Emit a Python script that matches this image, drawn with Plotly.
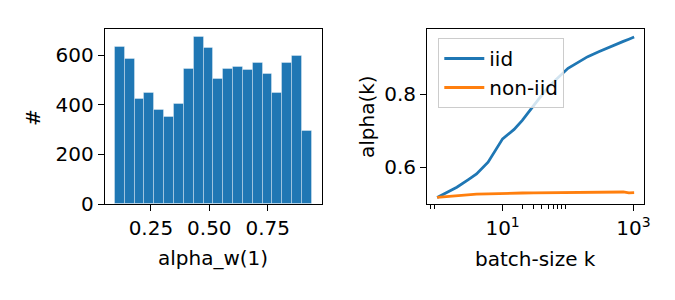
import plotly.graph_objects as go

# ---- data: histogram of alpha_w(1) ----
bin_start = 0.0957
bin_width = 0.04216
hist_counts = [634, 586, 423, 446, 379, 353, 402, 543, 673, 631,
               503, 546, 553, 541, 568, 523, 448, 570, 599, 293]
hist_ticks = [0.25, 0.50, 0.75]
hist_yticks = [0, 200, 400, 600]

# ---- data: alpha(k) vs batch size ----
batch_k = [1, 2, 3, 4, 6, 8, 10, 15, 20, 30, 50, 100, 200, 300, 500, 700, 850, 1024]
alpha_iid = [0.517, 0.545, 0.566, 0.5815, 0.614, 0.651, 0.678, 0.704, 0.729,
             0.770, 0.821, 0.872, 0.904, 0.918, 0.936, 0.946, 0.952, 0.958]
alpha_noniid = [0.517, 0.522, 0.524, 0.526, 0.527, 0.528, 0.5285, 0.529, 0.5293,
                0.5295, 0.5297, 0.53, 0.53, 0.53, 0.5305, 0.532, 0.5295, 0.530]
k_ticks = [10, 1000]
k_ticktext = ["10<sup>1</sup>", "10<sup>3</sup>"]
k_minor = [0.7, 0.8, 0.9, 20, 30, 40, 50, 60, 70, 80, 90]
alpha_yticks = [0.6, 0.8]

centers = [bin_start + bin_width * (i + 0.5) for i in range(len(hist_counts))]

FONT = "DejaVu Sans"
FS = 20
BLUE = "#1f77b4"
ORANGE = "#ff7f0e"
W, H = 675, 300

fig = go.Figure()
fig.add_trace(go.Bar(x=centers, y=hist_counts, width=bin_width,
                     marker=dict(color=BLUE, line=dict(color="rgba(255,255,255,0.35)", width=1)),
                     showlegend=False, xaxis="x", yaxis="y"))
fig.add_trace(go.Scatter(x=batch_k, y=alpha_iid, mode="lines", name="iid",
                         line=dict(color=BLUE, width=2.8), xaxis="x2", yaxis="y2"))
fig.add_trace(go.Scatter(x=batch_k, y=alpha_noniid, mode="lines", name="non-iid",
                         line=dict(color=ORANGE, width=2.8), xaxis="x2", yaxis="y2"))

ax_common = dict(showline=True, linecolor="black", linewidth=1.4, mirror=True,
                 ticks="outside", ticklen=6, tickwidth=1.4, tickcolor="black",
                 showgrid=False, zeroline=False, automargin=False,
                 tickfont=dict(family=FONT, size=FS, color="black"))

ydom = [1 - 204 / H, 1 - 29 / H]
fig.update_layout(
    width=W, height=H,
    margin=dict(l=0, r=0, t=0, b=0),
    paper_bgcolor="white", plot_bgcolor="white",
    font=dict(family=FONT, size=FS, color="black"),
    bargap=0,
    xaxis=dict(domain=[105 / W, 321.7 / W], range=[0.0535, 0.981],
               tickvals=hist_ticks, ticktext=["0.25", "0.50", "0.75"],
               anchor="y", **ax_common),
    yaxis=dict(domain=ydom, range=[0, 706], tickvals=hist_yticks,
               anchor="x", **ax_common),
    xaxis2=dict(domain=[427.3 / W, 644 / W], type="log",
                range=[-0.1505, 3.161], tickvals=k_ticks, ticktext=k_ticktext,
                minor=dict(tickvals=k_minor, ticklen=3.5, tickwidth=1, tickcolor="black", ticks="outside"),
                anchor="y2", **ax_common),
    yaxis2=dict(domain=ydom, range=[0.499, 0.980], tickvals=alpha_yticks,
                ticktext=["0.6", "0.8"],
                anchor="x2", **ax_common),
    legend=dict(x=438.3 / W, y=1 - 38 / H, xanchor="left", yanchor="top",
                bgcolor="rgba(255,255,255,0.8)", bordercolor="#cccccc", borderwidth=1,
                font=dict(family=FONT, size=FS), itemwidth=40),
    annotations=[
        dict(text="alpha_w(1)", x=213.3 / W, y=1 - 257.7 / H, xref="paper", yref="paper",
             xanchor="center", yanchor="middle", showarrow=False, font=dict(family=FONT, size=FS)),
        dict(text="batch-size k", x=535.7 / W, y=1 - 259 / H, xref="paper", yref="paper",
             xanchor="center", yanchor="middle", showarrow=False, font=dict(family=FONT, size=FS)),
        dict(text="#", x=33 / W, y=1 - 118 / H, xref="paper", yref="paper", textangle=-90,
             xanchor="center", yanchor="middle", showarrow=False, font=dict(family=FONT, size=FS)),
        dict(text="alpha(k)", x=367 / W, y=1 - 117 / H, xref="paper", yref="paper", textangle=-90,
             xanchor="center", yanchor="middle", showarrow=False, font=dict(family=FONT, size=FS)),
    ],
)

fig.write_html("out.html")
